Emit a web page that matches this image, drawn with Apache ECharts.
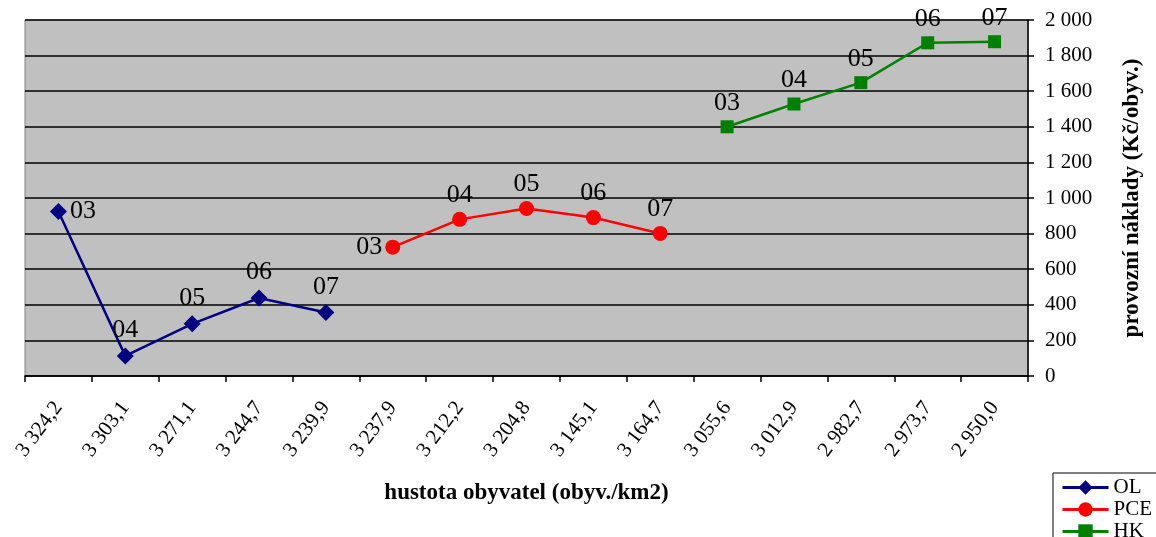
<!DOCTYPE html>
<html>
<head>
<meta charset="utf-8">
<script src="https://cdn.jsdelivr.net/npm/echarts@6/dist/echarts.min.js"></script>
<style>
  html, body { margin: 0; padding: 0; background: #fff; }
  #chart-container { width: 1156px; height: 537px; }
</style>
</head>
<body>
<div id="chart-container"></div>
<script>
var categories = ['3 324,2', '3 303,1', '3 271,1', '3 244,7', '3 239,9',
    '3 237,9', '3 212,2', '3 204,8', '3 145,1', '3 164,7',
    '3 055,6', '3 012,9', '2 982,7', '2 973,7', '2 950,0'];
var years = ['03', '04', '05', '06', '07'];
var olValues = [924, 113, 293, 438, 357];
var pceValues = [724, 880, 941, 890, 801];
var hkValues = [1400, 1528, 1648, 1872, 1878];

var font = 'Liberation Serif';

function spread(values, start, firstPos) {
    var out = [];
    for (var i = 0; i < categories.length; i++) {
        var k = i - start;
        if (k < 0 || k >= values.length) {
            out.push(null);
        } else {
            var item = { value: values[k] };
            if (k === 0 && firstPos) {
                item.label = { position: firstPos, distance: 3 };
            }
            out.push(item);
        }
    }
    return out;
}

function makeSeries(name, values, start, color, symbol, size, firstPos) {
    return {
        name: name,
        type: 'line',
        data: spread(values, start, firstPos),
        connectNulls: false,
        symbol: symbol,
        symbolSize: size,
        showAllSymbol: true,
        lineStyle: { color: color, width: 2.5 },
        itemStyle: { color: color },
        label: {
            show: true,
            position: 'top',
            distance: 4,
            fontFamily: font,
            fontSize: 26,
            color: '#000',
            formatter: function (p) { return years[p.dataIndex - start]; }
        },
        emphasis: { disabled: true },
        animation: false
    };
}

var dom = document.getElementById('chart-container');
var myChart = echarts.init(dom, null, { renderer: 'canvas' });

var option = {
    backgroundColor: '#fff',
    animation: false,
    grid: {
        left: 25, right: 128, top: 20, bottom: 161,
        show: true,
        backgroundColor: '#C0C0C0',
        borderColor: '#808080',
        borderWidth: 1
    },
    legend: {
        orient: 'vertical',
        left: 1053, top: 473,
        height: 120,
        padding: [4, 10, 4, 8],
        itemGap: 1,
        itemWidth: 46,
        itemHeight: 18,
        lineStyle: { width: 3 },
        borderColor: '#000',
        borderWidth: 1,
        backgroundColor: '#fff',
        textStyle: { fontFamily: font, fontSize: 21, color: '#000', lineHeight: 20 },
        data: ['OL', 'PCE', 'HK']
    },
    xAxis: {
        type: 'category',
        data: categories,
        boundaryGap: true,
        name: 'hustota obyvatel (obyv./km2)',
        nameLocation: 'middle',
        nameGap: 106,
        nameTextStyle: { fontFamily: font, fontSize: 23, fontWeight: 'bold', color: '#000' },
        axisLine: { lineStyle: { color: '#000', width: 1.5 } },
        axisTick: { show: true, length: 6, lineStyle: { color: '#000', width: 1.5 } },
        axisLabel: {
            interval: 0,
            rotate: 53,
            margin: 28,
            fontFamily: font,
            fontSize: 21,
            color: '#000'
        },
        splitLine: { show: false }
    },
    yAxis: {
        type: 'value',
        position: 'right',
        min: 0, max: 2000, interval: 200,
        name: 'provozní náklady (Kč/obyv.)',
        nameLocation: 'middle',
        nameRotate: 90,
        nameGap: 93,
        nameTextStyle: { fontFamily: font, fontSize: 23, fontWeight: 'bold', color: '#000' },
        axisLine: { show: true, lineStyle: { color: '#000', width: 1.5 } },
        axisTick: { show: true, length: 6, lineStyle: { color: '#000', width: 1.5 } },
        axisLabel: {
            margin: 17,
            fontFamily: font,
            fontSize: 21,
            color: '#000',
            formatter: function (v) { return String(v).replace(/\B(?=(\d{3})+(?!\d))/g, ' '); }
        },
        splitLine: { show: true, lineStyle: { color: '#000', width: 1.5 } }
    },
    series: [
        makeSeries('OL', olValues, 0, '#000080', 'diamond', 17, 'right'),
        makeSeries('PCE', pceValues, 5, '#FF0000', 'circle', 15, 'left'),
        makeSeries('HK', hkValues, 10, '#008000', 'rect', 13, null)
    ]
};

myChart.setOption(option);
window.addEventListener('resize', myChart.resize);
</script>
</body>
</html>
